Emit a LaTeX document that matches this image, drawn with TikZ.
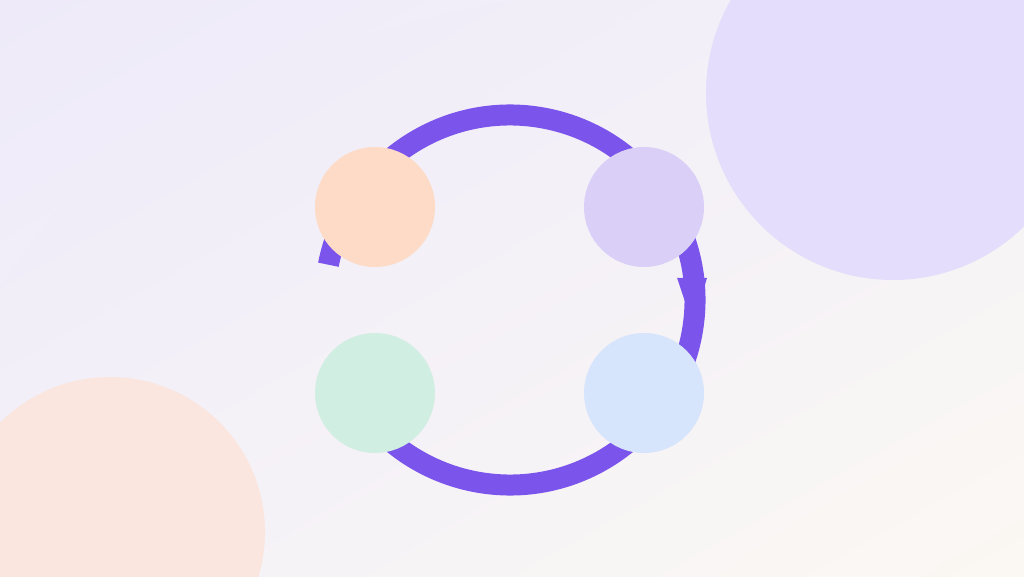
\documentclass[tikz,border=0pt]{standalone}
\usetikzlibrary{decorations.markings,shadings}

\definecolor{bgA}{HTML}{EEEAF9}
\definecolor{bgB}{HTML}{F4F1F8}
\definecolor{bgC}{HTML}{FBF8F3}
\definecolor{blobLilac}{HTML}{E4DDFB}
\definecolor{blobPeach}{HTML}{FAE6DF}
\definecolor{ringcol}{HTML}{7B55EB}
\definecolor{peachcol}{HTML}{FEDBC6}
\definecolor{lilaccol}{HTML}{DAD0F7}
\definecolor{mintcol}{HTML}{D0EEE1}
\definecolor{skycol}{HTML}{D6E4FC}

\begin{document}
\begin{tikzpicture}[x=1pt,y=1pt,
    stage/.style={circle,minimum size=120pt,inner sep=0pt},
    ring/.style={draw=ringcol,line width=21pt}]
    \useasboundingbox (0,0) rectangle (1024,576);
    \shade[upper left=bgA,upper right=bgB,lower left=bgB,lower right=bgC] (0,0) rectangle (1024,576);

    % soft blobs
    \fill[blobLilac] (893,483) circle (187);
    \fill[blobPeach] (110,44) circle (155);

    % cycle ring
    \coordinate (hub) at (510,276);
    \draw[ring,postaction=decorate,
        decoration={markings,mark=at position 0.538 with {\fill[ringcol] (-22pt,-18pt) -- (-22pt,12pt) -- (26pt,-2pt) -- cycle;}}]
        ([shift={(169:185)}]hub) arc[start angle=169,end angle=-145,radius=185];

    \node[stage,fill=peachcol] (peach) at (375,369) {};
    \node[stage,fill=lilaccol] (lilac) at (644,369) {};
    \node[stage,fill=mintcol] (mint) at (375,183) {};
    \node[stage,fill=skycol] (sky) at (644,183) {};
\end{tikzpicture}
\end{document}
